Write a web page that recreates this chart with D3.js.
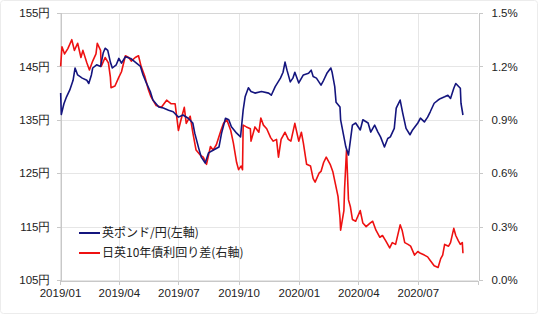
<!DOCTYPE html>
<html>
<head>
<meta charset="utf-8">
<script src="https://cdn.jsdelivr.net/npm/d3@7"></script>
<style>
  body { margin: 0; background: #fff; }
  svg { display: block; font-family: "Noto Sans CJK JP", "Noto Sans", sans-serif; }
  .grid line { stroke: #e6e6e6; shape-rendering: crispEdges; }
  .axis path, .axis line { stroke: #c8c8c8; shape-rendering: crispEdges; }
  .axis text { fill: #222; font-size: 11.5px; }
</style>
</head>
<body>
<svg id="chart" width="540" height="317"></svg>
<script>

// GBP/JPY (left axis, yen)
var gbpDates = ["2019-01-02","2019-01-03","2019-01-07","2019-01-11","2019-01-16","2019-01-21","2019-01-24","2019-01-28",
  "2019-02-04","2019-02-11","2019-02-14","2019-02-18","2019-02-20","2019-02-26","2019-03-04","2019-03-08","2019-03-11",
  "2019-03-15","2019-03-19","2019-03-22","2019-03-28","2019-04-01","2019-04-05","2019-04-11","2019-04-19","2019-04-26",
  "2019-05-04","2019-05-08","2019-05-13","2019-05-19","2019-05-23","2019-06-01","2019-06-08","2019-06-16","2019-06-23",
  "2019-07-01","2019-07-08","2019-07-16","2019-07-23","2019-07-26","2019-08-01","2019-08-05","2019-08-11","2019-08-16",
  "2019-08-23","2019-09-01","2019-09-05","2019-09-11","2019-09-16","2019-09-20","2019-09-28","2019-10-04","2019-10-08",
  "2019-10-11","2019-10-16","2019-10-20","2019-10-26","2019-11-05","2019-11-16","2019-11-20","2019-11-26","2019-12-04",
  "2019-12-08","2019-12-11","2019-12-14","2019-12-19","2019-12-23","2019-12-26","2020-01-01","2020-01-08","2020-01-16",
  "2020-01-20","2020-01-23","2020-01-28","2020-02-04","2020-02-08","2020-02-13","2020-02-19","2020-02-21","2020-02-25",
  "2020-02-27","2020-03-04","2020-03-05","2020-03-10","2020-03-13","2020-03-17","2020-03-20","2020-03-23","2020-03-28",
  "2020-04-04","2020-04-08","2020-04-16","2020-04-20","2020-04-26","2020-05-01","2020-05-05","2020-05-11","2020-05-16",
  "2020-05-20","2020-05-26","2020-05-29","2020-06-04","2020-06-08","2020-06-13","2020-06-19","2020-06-23","2020-07-01",
  "2020-07-05","2020-07-11","2020-07-16","2020-07-20","2020-07-26","2020-08-01","2020-08-05","2020-08-11","2020-08-16",
  "2020-08-20","2020-08-25","2020-08-28","2020-09-04","2020-09-05","2020-09-08"];
var gbpValues = [140.0,136.0,138.0,139.3,140.6,142.4,144.7,143.4,
  142.8,142.4,141.8,143.4,144.7,145.3,145.0,147.5,148.4,
  148.0,145.8,144.7,145.3,146.5,145.6,146.8,146.5,145.8,
  145.0,143.4,141.9,140.3,138.7,137.4,137.2,136.8,136.5,
  135.5,135.9,135.3,134.4,132.5,129.7,128.0,126.9,128.8,
  129.3,129.9,132.5,135.3,135.0,133.7,132.5,131.8,136.8,
  139.3,141.0,140.3,140.0,140.3,140.0,139.6,141.2,142.8,
  143.9,145.8,144.3,142.1,142.8,143.9,141.9,143.4,143.7,
  144.3,143.1,142.8,141.5,142.4,143.7,144.7,143.9,141.2,
  138.3,137.4,135.0,131.8,129.9,128.4,131.2,134.0,134.4,
  133.1,135.0,134.4,132.7,134.0,132.7,131.8,129.9,131.5,
  131.8,133.4,137.2,138.7,136.2,133.4,132.2,133.1,134.4,
  135.3,134.6,135.5,136.5,138.1,138.7,139.0,139.3,139.6,
  139.0,140.9,141.8,140.9,138.1,135.9];

// Japan-UK 10y yield spread (right axis, %)
var sprDates = ["2019-01-02","2019-01-04","2019-01-08","2019-01-13","2019-01-19","2019-01-23","2019-01-28","2019-02-02",
  "2019-02-05","2019-02-11","2019-02-15","2019-02-20","2019-02-25","2019-02-27","2019-03-04","2019-03-05","2019-03-11",
  "2019-03-16","2019-03-19","2019-03-20","2019-03-26","2019-04-01","2019-04-05","2019-04-11","2019-04-16","2019-04-20",
  "2019-04-26","2019-05-01","2019-05-05","2019-05-11","2019-05-16","2019-05-20","2019-05-28","2019-06-05","2019-06-13",
  "2019-06-20","2019-06-26","2019-07-01","2019-07-05","2019-07-10","2019-07-13","2019-07-19","2019-07-23","2019-07-28",
  "2019-08-04","2019-08-08","2019-08-13","2019-08-19","2019-08-23","2019-08-28","2019-09-04","2019-09-08","2019-09-13",
  "2019-09-19","2019-09-23","2019-09-28","2019-10-01","2019-10-05","2019-10-07","2019-10-08","2019-10-13","2019-10-19",
  "2019-10-20","2019-10-26","2019-11-01","2019-11-04","2019-11-08","2019-11-13","2019-11-19","2019-11-23","2019-11-28",
  "2019-12-01","2019-12-05","2019-12-11","2019-12-16","2019-12-20","2019-12-26","2020-01-01","2020-01-05","2020-01-08",
  "2020-01-13","2020-01-19","2020-01-23","2020-01-26","2020-02-01","2020-02-04","2020-02-08","2020-02-12","2020-02-18",
  "2020-02-22","2020-02-26","2020-03-01","2020-03-04","2020-03-05","2020-03-10","2020-03-11","2020-03-14","2020-03-17",
  "2020-03-20","2020-03-23","2020-03-28","2020-04-04","2020-04-08","2020-04-13","2020-04-19","2020-04-23","2020-04-28",
  "2020-05-04","2020-05-08","2020-05-13","2020-05-19","2020-05-23","2020-05-28","2020-06-04","2020-06-07","2020-06-11",
  "2020-06-16","2020-06-20","2020-06-26","2020-07-01","2020-07-05","2020-07-11","2020-07-16","2020-07-20","2020-07-26",
  "2020-08-01","2020-08-05","2020-08-08","2020-08-11","2020-08-17","2020-08-20","2020-08-25","2020-08-28","2020-09-01",
  "2020-09-04","2020-09-07","2020-09-08"];
var sprValues = [1.20,1.31,1.27,1.30,1.35,1.29,1.33,1.25,
  1.29,1.22,1.18,1.23,1.27,1.33,1.29,1.20,1.25,
  1.22,1.14,1.08,1.09,1.14,1.17,1.26,1.25,1.23,
  1.25,1.26,1.20,1.14,1.07,1.03,0.98,0.97,1.01,
  0.99,0.99,0.84,0.90,0.97,0.88,0.92,0.83,0.73,
  0.70,0.69,0.65,0.75,0.73,0.76,0.84,0.88,0.90,
  0.84,0.77,0.66,0.62,0.64,0.62,0.87,0.86,0.85,
  0.78,0.86,0.83,0.91,0.87,0.85,0.80,0.78,0.79,
  0.69,0.79,0.83,0.79,0.78,0.88,0.78,0.83,0.77,
  0.65,0.64,0.57,0.55,0.60,0.61,0.66,0.69,0.65,
  0.61,0.54,0.47,0.35,0.28,0.39,0.51,0.73,0.45,
  0.41,0.34,0.33,0.39,0.32,0.30,0.32,0.33,0.28,
  0.24,0.25,0.22,0.18,0.21,0.20,0.31,0.28,0.21,
  0.20,0.19,0.14,0.16,0.15,0.14,0.13,0.11,0.08,
  0.07,0.12,0.14,0.20,0.19,0.21,0.29,0.25,0.22,
  0.20,0.21,0.15];

var leftTicks = [105, 115, 125, 135, 145, 155];
var rightTicks = [0, 0.3, 0.6, 0.9, 1.2, 1.5];
var xTicks = ["2019-01-01","2019-04-01","2019-07-01","2019-10-01","2020-01-01","2020-04-01","2020-07-01"];
var seriesNames = ["英ポンド/円(左軸)", "日英10年債利回り差(右軸)"];
var seriesColors = ["#14157e", "#ee1111"];

//---------------------------------------
var parse = d3.timeParse("%Y-%m-%d");
var fmt = d3.timeFormat("%Y/%m");

var margin = {top: 13, right: 62, bottom: 37, left: 60};
var width = 540, height = 317;

var svg = d3.select("#chart");

// faint outer frame
svg.append("rect")
  .attr("x", 0.5).attr("y", 0.5)
  .attr("width", width - 3).attr("height", height - 4)
  .attr("rx", 3)
  .attr("fill", "none")
  .attr("stroke", "#ececec");

var x = d3.scaleTime()
  .domain([parse("2019-01-01"), parse("2020-10-01")])
  .range([margin.left, width - margin.right]);

var yL = d3.scaleLinear()
  .domain([105, 155])
  .range([height - margin.bottom, margin.top]);

var yR = d3.scaleLinear()
  .domain([0, 1.5])
  .range([height - margin.bottom, margin.top]);

// grid
var grid = svg.append("g").attr("class", "grid");
grid.selectAll(".h")
  .data(leftTicks)
  .enter().append("line")
  .attr("x1", margin.left).attr("x2", width - margin.right)
  .attr("y1", function(d) { return Math.round(yL(d)) + 0.5; })
  .attr("y2", function(d) { return Math.round(yL(d)) + 0.5; });
grid.selectAll(".v")
  .data(xTicks)
  .enter().append("line")
  .attr("y1", margin.top).attr("y2", height - margin.bottom)
  .attr("x1", function(d) { return Math.round(x(parse(d))) + 0.5; })
  .attr("x2", function(d) { return Math.round(x(parse(d))) + 0.5; });

// top border line a bit darker
svg.append("line")
  .attr("x1", margin.left).attr("x2", width - margin.right)
  .attr("y1", margin.top + 0.5).attr("y2", margin.top + 0.5)
  .attr("stroke", "#d6d6d6");

// axes
svg.append("g")
  .attr("class", "axis")
  .attr("transform", "translate(" + (margin.left + 0.5) + ",0)")
  .call(d3.axisLeft(yL).tickValues(leftTicks).tickSize(4).tickPadding(6)
    .tickFormat(function(d) { return d + "円"; }));

svg.append("g")
  .attr("class", "axis")
  .attr("transform", "translate(" + (width - margin.right + 0.5) + ",0)")
  .call(d3.axisRight(yR).tickValues(rightTicks).tickSize(4).tickPadding(9)
    .tickFormat(function(d) { return d.toFixed(1) + "%"; }));

svg.append("g")
  .attr("class", "axis")
  .attr("transform", "translate(0," + (height - margin.bottom + 0.5) + ")")
  .call(d3.axisBottom(x).tickValues(xTicks.map(parse)).tickSize(4).tickPadding(4)
    .tickFormat(fmt));

svg.selectAll(".axis .domain").attr("stroke", "#c8c8c8");

//---------------------------------------
var gbp = gbpDates.map(function(d, i) { return [parse(d), gbpValues[i]]; });
var spr = sprDates.map(function(d, i) { return [parse(d), sprValues[i]]; });

svg.append("path")
  .datum(spr)
  .attr("fill", "none")
  .attr("stroke", seriesColors[1])
  .attr("stroke-width", 1.6)
  .attr("stroke-linejoin", "round")
  .attr("d", d3.line()
    .x(function(d) { return x(d[0]); })
    .y(function(d) { return yR(d[1]); }));

svg.append("path")
  .datum(gbp)
  .attr("fill", "none")
  .attr("stroke", seriesColors[0])
  .attr("stroke-width", 1.6)
  .attr("stroke-linejoin", "round")
  .attr("d", d3.line()
    .x(function(d) { return x(d[0]); })
    .y(function(d) { return yL(d[1]); }));

//---------------------------------------
// legend
var legend = svg.append("g").attr("transform", "translate(79,233)");
var item = legend.selectAll("g")
  .data(seriesNames)
  .enter().append("g")
  .attr("transform", function(d, i) { return "translate(0," + (i * 20) + ")"; });
item.append("line")
  .attr("x1", 0).attr("x2", 21)
  .attr("stroke", function(d, i) { return seriesColors[i]; })
  .attr("stroke-width", 2);
item.append("text")
  .attr("x", 23).attr("dy", "0.35em")
  .attr("font-size", 12)
  .attr("fill", "#222")
  .text(function(d) { return d; });

</script>
</body>
</html>
